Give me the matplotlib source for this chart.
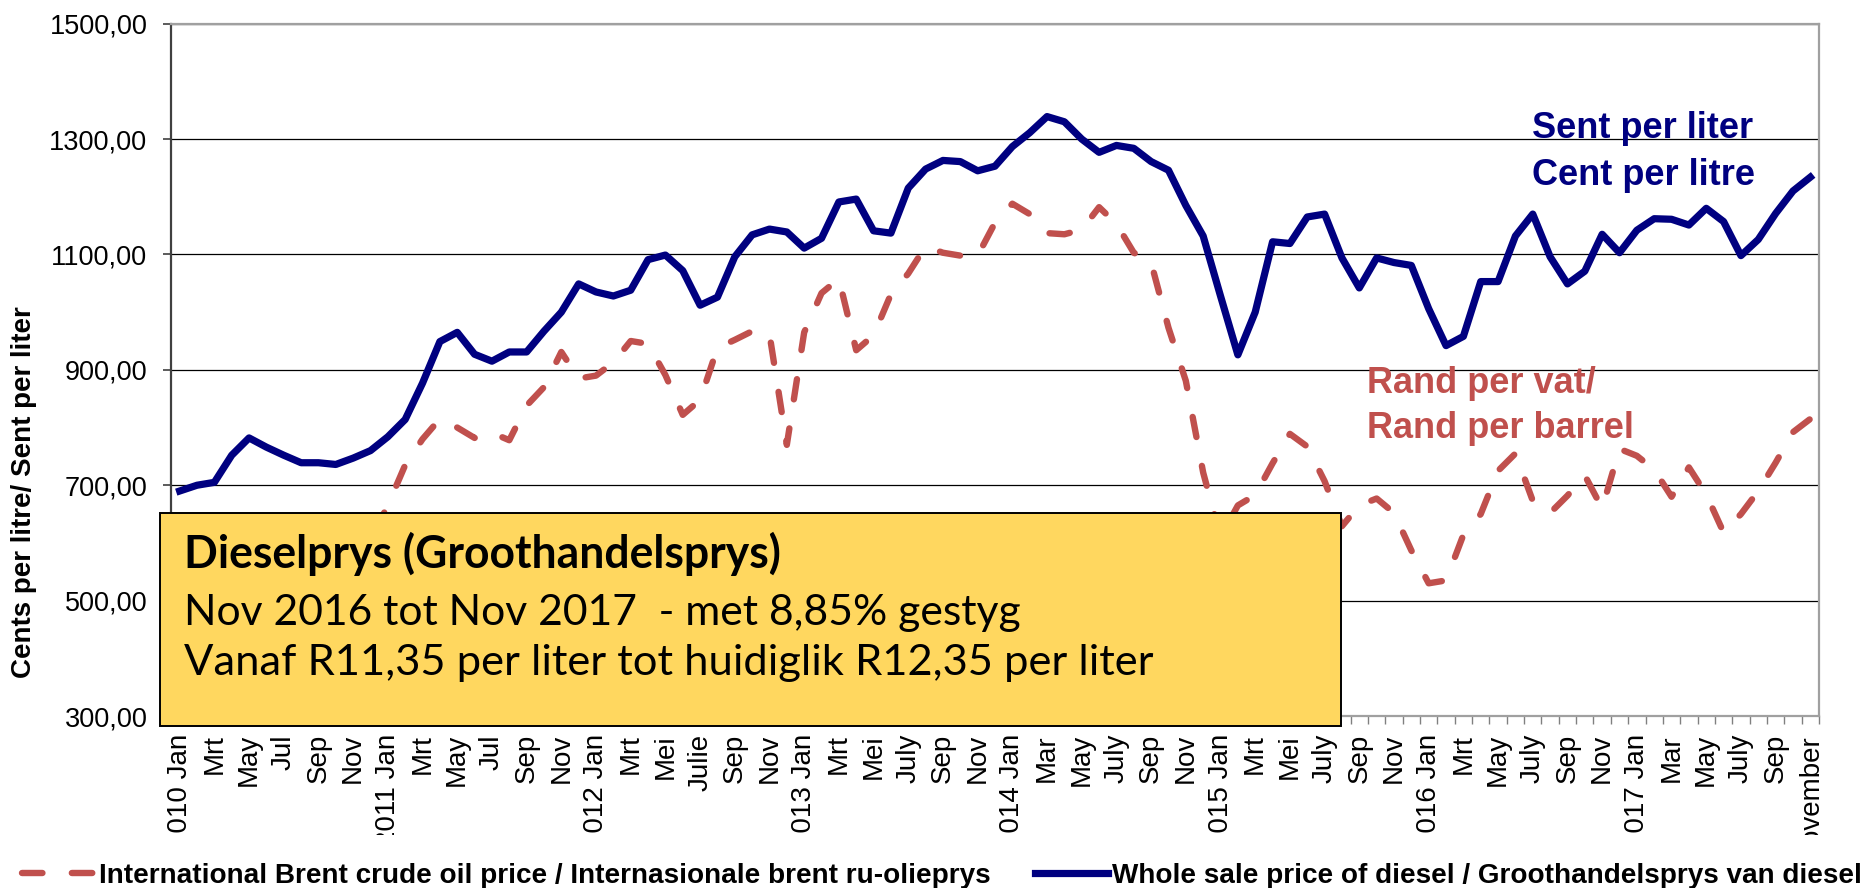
import matplotlib
matplotlib.use("Agg")
import matplotlib.pyplot as plt
from matplotlib import font_manager
from matplotlib.patches import Rectangle
from matplotlib.transforms import Bbox, TransformedBbox
import numpy as np

# month labels, one every two months (Jan 2010 .. Nov 2017)
tick_labels = ["2010 Jan", "Mrt", "May", "Jul", "Sep", "Nov",
               "2011 Jan", "Mrt", "May", "Jul", "Sep", "Nov",
               "2012 Jan", "Mrt", "Mei", "Julie", "Sep", "Nov",
               "2013 Jan", "Mrt", "Mei", "July", "Sep", "Nov",
               "2014 Jan", "Mar", "May", "July", "Sep", "Nov",
               "2015 Jan", "Mrt", "Mei", "July", "Sep", "Nov",
               "2016 Jan", "Mrt", "May", "July", "Sep", "Nov",
               "2017 Jan", "Mar", "May", "July", "Sep", "November"]

# Brent crude, rand per barrel (monthly)
brent = [560, 545, 580, 600, 580, 575, 570, 585, 540, 575, 590, 605,
         665, 735, 780, 815, 800, 782, 791, 778, 838, 870, 931, 885,
         890, 913, 950, 945, 891, 822, 848, 938, 952, 967, 962, 770,
         965, 1033, 1058, 934, 960, 1031, 1067, 1114, 1103, 1098, 1098, 1155,
         1188, 1170, 1137, 1135, 1143, 1182, 1153, 1103, 1086, 973, 881, 722,
         610, 665, 683, 738, 789, 767, 707, 629, 665, 677, 652, 587,
         530, 535, 614, 650, 725, 755, 673, 652, 682, 717, 660, 763,
         751, 727, 680, 731, 684, 618, 650, 690, 739, 792, 815]

# wholesale diesel, cents per litre (monthly)
diesel = [690, 700, 705, 752, 782, 766, 752, 739, 739, 736, 747, 760,
          784, 814, 877, 949, 965, 927, 915, 931, 931, 967, 1000, 1049,
          1035, 1028, 1038, 1091, 1099, 1072, 1012, 1026, 1096, 1134, 1144, 1139,
          1111, 1128, 1191, 1196, 1141, 1137, 1215, 1248, 1263, 1261, 1245, 1253,
          1287, 1311, 1339, 1330, 1300, 1277, 1289, 1284, 1261, 1246, 1185, 1132,
          1028, 926, 1000, 1122, 1119, 1165, 1170, 1094, 1042, 1094, 1086, 1081,
          1006, 942, 958, 1053, 1053, 1132, 1170, 1096, 1049, 1071, 1135, 1103,
          1142, 1162, 1161, 1151, 1180, 1157, 1098, 1126, 1171, 1210, 1234]

W, H = 1861, 888

def fx(px):
    return px / W

def fy(py):
    return 1 - py / H

try:
    font_manager.findfont("Liberation Sans Narrow", fallback_to_default=False)
    narrow = "Liberation Sans Narrow"
except Exception:
    narrow = "Liberation Sans"

plt.rcParams['font.family'] = ['Liberation Sans', 'DejaVu Sans']

fig = plt.figure(figsize=(W / 100, H / 100), dpi=100)
ax = fig.add_axes([fx(171), fy(716), fx(1819) - fx(171), fy(23.7) - fy(716)])

x = np.arange(len(diesel))
red = "#C0504D"
navy = "#000080"
ax.plot(x, brent, color=red, lw=4.6, ls=(0, (3.2, 4.6)), dash_capstyle="round",
        label="International Brent crude oil price / Internasionale brent ru-olieprys")
ax.plot(x, diesel, color=navy, lw=5.2, solid_joinstyle="round",
        label="Whole sale price of diesel / Groothandelsprys van diesel")

ax.set_xlim(-0.5, len(diesel) - 0.5)
ax.set_ylim(300, 1500)
ax.set_yticks(range(300, 1501, 200))
ax.set_yticklabels([f"{v:.2f}".replace(".", ",") for v in range(300, 1501, 200)])
ax.tick_params(axis="y", length=6, width=1.2, color="#404040", pad=11, labelsize=19.5)
ax.yaxis.grid(True, color="black", lw=0.9)

ax.set_xticks(range(0, len(diesel), 2))
ax.set_xticklabels(tick_labels, rotation=90, va="top", ha="center")
ax.set_xticks(np.arange(-0.5, len(diesel), 1), minor=True)
ax.tick_params(axis="x", which="major", length=0, pad=13, labelsize=20)
ax.tick_params(axis="x", which="minor", length=6, width=1, color="#808080")

for s in ["top", "right", "bottom"]:
    ax.spines[s].set_color("#a0a0a0")
    ax.spines[s].set_linewidth(1.6)
ax.spines["left"].set_color("#404040")
ax.spines["left"].set_linewidth(1.6)

# labels below the cut-off edge are clipped like in the original
clip = TransformedBbox(Bbox([[0, fy(835)], [1, 1]]), fig.transFigure)
for t in ax.get_xticklabels():
    t.set_clip_box(clip)
    t.set_clip_on(True)

fig.text(fx(24), fy(492), "Cents per litre/ Sent per liter", rotation=90,
         ha="center", va="center", fontsize=20, fontweight="bold")

# series annotations
fig.text(fx(1532), fy(138), "Sent per liter", color=navy, fontsize=26, fontweight="bold", va="baseline")
fig.text(fx(1532), fy(185), "Cent per litre", color=navy, fontsize=26, fontweight="bold", va="baseline")
fig.text(fx(1367), fy(393), "Rand per vat/", color=red, fontsize=26, fontweight="bold", va="baseline")
fig.text(fx(1367), fy(438), "Rand per barrel", color=red, fontsize=26, fontweight="bold", va="baseline")

# yellow note box
fig.add_artist(Rectangle((fx(160), fy(726)), fx(1341) - fx(160), fy(513) - fy(726),
                         transform=fig.transFigure, facecolor="#FFD75F",
                         edgecolor="black", lw=1.4, zorder=5))
box_lines = [("Dieselprys (Groothandelsprys)", "bold", 568, 597),
             ("Nov 2016 tot Nov 2017  - met 8,85% gestyg", "normal", 625, 837),
             ("Vanaf R11,35 per liter tot huidiglik R12,35 per liter", "normal", 675, 970)]
renderer = fig.canvas.get_renderer()
for txt, wt, base, width in box_lines:
    t = fig.text(fx(184), fy(base), txt, family=["Lato", "DejaVu Sans"], fontweight=wt,
                 fontsize=28, va="baseline", zorder=6)
    w = t.get_window_extent(renderer).width
    t.set_fontsize(28 * width / w)

ax.legend(loc="center left", bbox_to_anchor=(fx(22), fy(876)), bbox_transform=fig.transFigure,
          ncol=2, frameon=False, borderpad=0, borderaxespad=0, handlelength=2.6,
          handletextpad=0.15, columnspacing=1.6,
          prop={"family": [narrow, "Liberation Sans"], "weight": "bold", "size": 20.1})

fig.savefig("out.png", dpi=100)
